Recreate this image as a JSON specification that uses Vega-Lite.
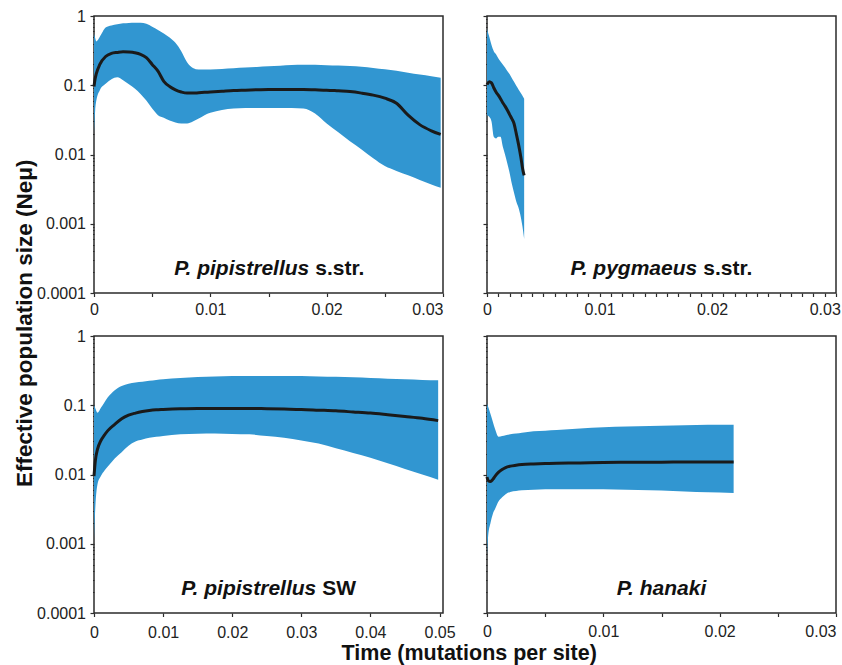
{
  "$schema": "https://vega.github.io/schema/vega-lite/v6.json",
  "padding": {"left": 12, "top": 7, "right": 5, "bottom": 2},
  "background": "white",
  "columns": 2,
  "spacing": {"row": 43, "column": 44},
  "bounds": "flush",
  "datasets": {
    "A": [
      {"t": 0, "lo": 0.0199, "med": 0.096, "hi": 0.556},
      {"t": 0.0001, "lo": 0.043, "med": 0.125, "hi": 0.48},
      {"t": 0.0002, "lo": 0.06, "med": 0.147, "hi": 0.43},
      {"t": 0.0005, "lo": 0.085, "med": 0.2, "hi": 0.5},
      {"t": 0.001, "lo": 0.105, "med": 0.26, "hi": 0.68},
      {"t": 0.0015, "lo": 0.122, "med": 0.288, "hi": 0.73},
      {"t": 0.002, "lo": 0.13, "med": 0.298, "hi": 0.76},
      {"t": 0.0025, "lo": 0.118, "med": 0.305, "hi": 0.785},
      {"t": 0.003, "lo": 0.103, "med": 0.302, "hi": 0.795},
      {"t": 0.0035, "lo": 0.09, "med": 0.295, "hi": 0.8},
      {"t": 0.004, "lo": 0.075, "med": 0.28, "hi": 0.8},
      {"t": 0.0045, "lo": 0.06, "med": 0.25, "hi": 0.77},
      {"t": 0.005, "lo": 0.046, "med": 0.2, "hi": 0.7},
      {"t": 0.0055, "lo": 0.037, "med": 0.16, "hi": 0.63},
      {"t": 0.006, "lo": 0.034, "med": 0.114, "hi": 0.56},
      {"t": 0.0065, "lo": 0.031, "med": 0.096, "hi": 0.49},
      {"t": 0.007, "lo": 0.029, "med": 0.086, "hi": 0.41},
      {"t": 0.0075, "lo": 0.028, "med": 0.08, "hi": 0.31},
      {"t": 0.008, "lo": 0.028, "med": 0.077, "hi": 0.215},
      {"t": 0.0085, "lo": 0.03, "med": 0.077, "hi": 0.178},
      {"t": 0.009, "lo": 0.033, "med": 0.078, "hi": 0.169},
      {"t": 0.0095, "lo": 0.037, "med": 0.079, "hi": 0.169},
      {"t": 0.01, "lo": 0.04, "med": 0.08, "hi": 0.169},
      {"t": 0.011, "lo": 0.044, "med": 0.082, "hi": 0.172},
      {"t": 0.012, "lo": 0.046, "med": 0.084, "hi": 0.176},
      {"t": 0.013, "lo": 0.047, "med": 0.085, "hi": 0.18},
      {"t": 0.014, "lo": 0.047, "med": 0.086, "hi": 0.184},
      {"t": 0.015, "lo": 0.047, "med": 0.087, "hi": 0.188},
      {"t": 0.016, "lo": 0.047, "med": 0.087, "hi": 0.192},
      {"t": 0.017, "lo": 0.047, "med": 0.087, "hi": 0.196},
      {"t": 0.018, "lo": 0.046, "med": 0.087, "hi": 0.198},
      {"t": 0.019, "lo": 0.039, "med": 0.086, "hi": 0.197},
      {"t": 0.02, "lo": 0.028, "med": 0.085, "hi": 0.195},
      {"t": 0.021, "lo": 0.021, "med": 0.083, "hi": 0.193},
      {"t": 0.022, "lo": 0.0155, "med": 0.081, "hi": 0.189},
      {"t": 0.023, "lo": 0.0118, "med": 0.077, "hi": 0.185},
      {"t": 0.024, "lo": 0.0088, "med": 0.072, "hi": 0.178},
      {"t": 0.025, "lo": 0.0068, "med": 0.065, "hi": 0.17},
      {"t": 0.026, "lo": 0.0058, "med": 0.055, "hi": 0.162},
      {"t": 0.027, "lo": 0.005, "med": 0.037, "hi": 0.152},
      {"t": 0.028, "lo": 0.0043, "med": 0.027, "hi": 0.143},
      {"t": 0.029, "lo": 0.0037, "med": 0.022, "hi": 0.135},
      {"t": 0.0298, "lo": 0.0033, "med": 0.0195, "hi": 0.128}
    ],
    "B": [
      {"t": 0, "lo": 0.037, "med": 0.102, "hi": 0.65},
      {"t": 0.0002, "lo": 0.035, "med": 0.112, "hi": 0.5},
      {"t": 0.0004, "lo": 0.03, "med": 0.108, "hi": 0.38},
      {"t": 0.0006, "lo": 0.018, "med": 0.092, "hi": 0.31},
      {"t": 0.0008, "lo": 0.017, "med": 0.08, "hi": 0.28},
      {"t": 0.001, "lo": 0.018, "med": 0.072, "hi": 0.245},
      {"t": 0.0012, "lo": 0.018, "med": 0.064, "hi": 0.22},
      {"t": 0.0014, "lo": 0.013, "med": 0.056, "hi": 0.2},
      {"t": 0.0016, "lo": 0.01, "med": 0.05, "hi": 0.18},
      {"t": 0.0018, "lo": 0.0075, "med": 0.044, "hi": 0.16},
      {"t": 0.002, "lo": 0.0055, "med": 0.038, "hi": 0.145},
      {"t": 0.0022, "lo": 0.0038, "med": 0.033, "hi": 0.127},
      {"t": 0.0024, "lo": 0.0028, "med": 0.028, "hi": 0.112},
      {"t": 0.0026, "lo": 0.0021, "med": 0.02, "hi": 0.098},
      {"t": 0.0028, "lo": 0.0017, "med": 0.014, "hi": 0.087},
      {"t": 0.003, "lo": 0.00125, "med": 0.0093, "hi": 0.077},
      {"t": 0.0032, "lo": 0.0008, "med": 0.0058, "hi": 0.068},
      {"t": 0.0033, "lo": 0.0006, "med": 0.005, "hi": 0.064}
    ],
    "C": [
      {"t": 0, "lo": 0.0012, "med": 0.0095, "hi": 0.1},
      {"t": 0.0002, "lo": 0.0035, "med": 0.016, "hi": 0.09},
      {"t": 0.0005, "lo": 0.0072, "med": 0.023, "hi": 0.078},
      {"t": 0.001, "lo": 0.0095, "med": 0.031, "hi": 0.092},
      {"t": 0.0015, "lo": 0.0113, "med": 0.037, "hi": 0.11},
      {"t": 0.002, "lo": 0.013, "med": 0.043, "hi": 0.13},
      {"t": 0.003, "lo": 0.017, "med": 0.053, "hi": 0.165},
      {"t": 0.004, "lo": 0.021, "med": 0.064, "hi": 0.19},
      {"t": 0.005, "lo": 0.026, "med": 0.072, "hi": 0.205},
      {"t": 0.006, "lo": 0.03, "med": 0.077, "hi": 0.213},
      {"t": 0.007, "lo": 0.032, "med": 0.081, "hi": 0.218},
      {"t": 0.008, "lo": 0.034, "med": 0.084, "hi": 0.225},
      {"t": 0.009, "lo": 0.035, "med": 0.086, "hi": 0.232},
      {"t": 0.01, "lo": 0.036, "med": 0.087, "hi": 0.238},
      {"t": 0.0125, "lo": 0.038, "med": 0.089, "hi": 0.248},
      {"t": 0.015, "lo": 0.0387, "med": 0.09, "hi": 0.255},
      {"t": 0.0175, "lo": 0.039, "med": 0.09, "hi": 0.26},
      {"t": 0.02, "lo": 0.0385, "med": 0.09, "hi": 0.264},
      {"t": 0.0225, "lo": 0.038, "med": 0.09, "hi": 0.265},
      {"t": 0.025, "lo": 0.036, "med": 0.089, "hi": 0.265},
      {"t": 0.0275, "lo": 0.034, "med": 0.088, "hi": 0.265},
      {"t": 0.03, "lo": 0.031, "med": 0.087, "hi": 0.264},
      {"t": 0.0325, "lo": 0.028, "med": 0.085, "hi": 0.26},
      {"t": 0.035, "lo": 0.024, "med": 0.083, "hi": 0.257},
      {"t": 0.0375, "lo": 0.0205, "med": 0.08, "hi": 0.253},
      {"t": 0.04, "lo": 0.0175, "med": 0.077, "hi": 0.248},
      {"t": 0.0425, "lo": 0.0145, "med": 0.073, "hi": 0.242},
      {"t": 0.045, "lo": 0.012, "med": 0.069, "hi": 0.237},
      {"t": 0.0475, "lo": 0.01, "med": 0.065, "hi": 0.232},
      {"t": 0.0498, "lo": 0.0084, "med": 0.06, "hi": 0.229}
    ],
    "D": [
      {"t": 0, "lo": 0.0007, "med": 0.0092, "hi": 0.105},
      {"t": 0.0001, "lo": 0.0013, "med": 0.0082, "hi": 0.095},
      {"t": 0.0003, "lo": 0.002, "med": 0.0079, "hi": 0.075},
      {"t": 0.0005, "lo": 0.0027, "med": 0.0085, "hi": 0.058},
      {"t": 0.0007, "lo": 0.0032, "med": 0.0095, "hi": 0.045},
      {"t": 0.001, "lo": 0.0041, "med": 0.0108, "hi": 0.035},
      {"t": 0.0013, "lo": 0.0047, "med": 0.0118, "hi": 0.036},
      {"t": 0.0016, "lo": 0.0052, "med": 0.0126, "hi": 0.037},
      {"t": 0.002, "lo": 0.0056, "med": 0.0132, "hi": 0.038},
      {"t": 0.0025, "lo": 0.0058, "med": 0.0136, "hi": 0.039},
      {"t": 0.003, "lo": 0.0059, "med": 0.0139, "hi": 0.04},
      {"t": 0.004, "lo": 0.006, "med": 0.0142, "hi": 0.042},
      {"t": 0.005, "lo": 0.0061, "med": 0.0144, "hi": 0.043},
      {"t": 0.006, "lo": 0.0061, "med": 0.0145, "hi": 0.044},
      {"t": 0.008, "lo": 0.0061, "med": 0.0147, "hi": 0.046},
      {"t": 0.01, "lo": 0.0061, "med": 0.0149, "hi": 0.048},
      {"t": 0.012, "lo": 0.006, "med": 0.015, "hi": 0.0492},
      {"t": 0.014, "lo": 0.0059, "med": 0.015, "hi": 0.05},
      {"t": 0.016, "lo": 0.0058, "med": 0.0151, "hi": 0.051},
      {"t": 0.018, "lo": 0.0056, "med": 0.0151, "hi": 0.052},
      {"t": 0.02, "lo": 0.0055, "med": 0.0151, "hi": 0.0523},
      {"t": 0.0212, "lo": 0.0054, "med": 0.0151, "hi": 0.0525}
    ]
  },
  "concat": [
    {
      "width": 349, "height": 277,
      "data": {"name": "A"},
      "layer": [
        {
          "mark": {"type": "area", "color": "#3196d1", "interpolate": "monotone"},
          "encoding": {
            "x": {"field": "t", "type": "quantitative", "scale": {"domain": [0, 0.03], "nice": false, "zero": false},
              "axis": {"title": null, "format": "~g", "values": [0, 0.0025, 0.005, 0.0075, 0.01, 0.0125, 0.015, 0.0175, 0.02, 0.0225, 0.025, 0.0275, 0.03],
                "labelExpr": "abs(datum.value*100 - round(datum.value*100)) < 0.01 ? datum.label : ''",
                "labelAlign": {"condition": {"test": "datum.value > 0.029", "value": "right"}, "value": "center"},
                "labelOverlap": false, "labelFlush": false, "tickSize": 3.5, "labelPadding": 5}},
            "y": {"field": "lo", "type": "quantitative", "scale": {"type": "log", "domain": [0.0001, 1], "nice": false},
              "axis": {"title": "Effective population size (Neμ)", "titleX": -62.6, "titleY": 306.8, "titleBaseline": "alphabetic", "titleAlign": "center", "titleAngle": -90, "titleFontSize": 22.5,
                "format": "~g", "labelOverlap": false,
                "values": [0.0001, 0.0002, 0.0003, 0.0004, 0.0005, 0.0006, 0.0007, 0.0008, 0.0009, 0.001, 0.002, 0.003, 0.004, 0.005, 0.006, 0.007, 0.008, 0.009, 0.01, 0.02, 0.03, 0.04, 0.05, 0.06, 0.07, 0.08, 0.09, 0.1, 0.2, 0.3, 0.4, 0.5, 0.6, 0.7, 0.8, 0.9, 1],
                "labelExpr": "abs(log(datum.value)/LN10 - round(log(datum.value)/LN10)) < 0.001 ? datum.label : ''",
                "tickSize": {"condition": {"test": "abs(log(datum.value)/LN10 - round(log(datum.value)/LN10)) < 0.001", "value": 4}, "value": 1.5},
                "labelPadding": 4.5}},
            "y2": {"field": "hi"}
          }
        },
        {
          "mark": {"type": "line", "color": "#1a1a1a", "strokeWidth": 3, "interpolate": "monotone"},
          "encoding": {
            "x": {"field": "t", "type": "quantitative"},
            "y": {"field": "med", "type": "quantitative"}
          }
        },
        {
          "data": {"values": [{"s": "P. pipistrellus"}]},
          "mark": {"type": "text", "align": "right", "baseline": "alphabetic", "fontStyle": "italic", "fontWeight": "bold", "fontSize": 21, "dx": -3, "color": "#111"},
          "encoding": {"x": {"datum": 0.01876, "type": "quantitative"}, "y": {"datum": 0.00018, "type": "quantitative"}, "text": {"field": "s"}}
        },
        {
          "data": {"values": [{"s": "s.str."}]},
          "mark": {"type": "text", "align": "left", "baseline": "alphabetic", "fontWeight": "bold", "fontSize": 21, "dx": 3, "color": "#111"},
          "encoding": {"x": {"datum": 0.01876, "type": "quantitative"}, "y": {"datum": 0.00018, "type": "quantitative"}, "text": {"field": "s"}}
        }
      ]
    },
    {
      "width": 349, "height": 277,
      "data": {"name": "B"},
      "resolve": {"axis": {"x": "independent"}},
      "layer": [
        {
          "mark": {"type": "area", "color": "#3196d1", "interpolate": "monotone"},
          "encoding": {
            "x": {"field": "t", "type": "quantitative", "scale": {"domain": [0, 0.031], "nice": false, "zero": false},
              "axis": {"orient": "bottom", "title": null, "format": "~g", "values": [0, 0.01, 0.02, 0.03],
                "labelOverlap": false, "labelFlush": false, "tickSize": 3.5, "labelPadding": 5}},
            "y": {"field": "lo", "type": "quantitative", "scale": {"type": "log", "domain": [0.0001, 1], "nice": false},
              "axis": {"title": null, "labels": false,
                "values": [0.0001, 0.0002, 0.0003, 0.0004, 0.0005, 0.0006, 0.0007, 0.0008, 0.0009, 0.001, 0.002, 0.003, 0.004, 0.005, 0.006, 0.007, 0.008, 0.009, 0.01, 0.02, 0.03, 0.04, 0.05, 0.06, 0.07, 0.08, 0.09, 0.1, 0.2, 0.3, 0.4, 0.5, 0.6, 0.7, 0.8, 0.9, 1],
                "tickSize": {"condition": {"test": "abs(log(datum.value)/LN10 - round(log(datum.value)/LN10)) < 0.001", "value": 4}, "value": 1.5}}},
            "y2": {"field": "hi"}
          }
        },
        {
          "mark": {"type": "line", "color": "#1a1a1a", "strokeWidth": 3, "interpolate": "monotone"},
          "encoding": {
            "x": {"field": "t", "type": "quantitative",
              "axis": {"orient": "bottom", "title": null, "labels": false, "tickSize": 3.5,
                "values": [0.001, 0.002, 0.003, 0.004, 0.005, 0.006, 0.007, 0.008, 0.009, 0.011, 0.012, 0.013, 0.014, 0.015, 0.016, 0.017, 0.018, 0.019, 0.021, 0.022, 0.023, 0.024, 0.025, 0.026, 0.027, 0.028, 0.029, 0.031]}},
            "y": {"field": "med", "type": "quantitative"}
          }
        },
        {
          "data": {"values": [{"s": "P. pygmaeus"}]},
          "mark": {"type": "text", "align": "right", "baseline": "alphabetic", "fontStyle": "italic", "fontWeight": "bold", "fontSize": 21, "dx": -3, "color": "#111"},
          "encoding": {"x": {"datum": 0.01894, "type": "quantitative", "axis": null}, "y": {"datum": 0.00018, "type": "quantitative"}, "text": {"field": "s"}}
        },
        {
          "data": {"values": [{"s": "s.str."}]},
          "mark": {"type": "text", "align": "left", "baseline": "alphabetic", "fontWeight": "bold", "fontSize": 21, "dx": 3, "color": "#111"},
          "encoding": {"x": {"datum": 0.01894, "type": "quantitative", "axis": null}, "y": {"datum": 0.00018, "type": "quantitative"}, "text": {"field": "s"}}
        }
      ]
    },
    {
      "width": 349, "height": 277,
      "data": {"name": "C"},
      "layer": [
        {
          "mark": {"type": "area", "color": "#3196d1", "interpolate": "monotone"},
          "encoding": {
            "x": {"field": "t", "type": "quantitative", "scale": {"domain": [0, 0.0505], "nice": false, "zero": false},
              "axis": {"title": "Time (mutations per site)", "titleX": 374.7, "titleY": 46.5, "titleBaseline": "alphabetic", "titleAlign": "center", "titleFontSize": 21.5,
                "format": "~g", "values": [0, 0.005, 0.01, 0.015, 0.02, 0.025, 0.03, 0.035, 0.04, 0.045, 0.05],
                "labelExpr": "abs(datum.value*100 - round(datum.value*100)) < 0.01 ? datum.label : ''",
                "labelOverlap": false, "labelFlush": false, "tickSize": 3.5, "labelPadding": 8}},
            "y": {"field": "lo", "type": "quantitative", "scale": {"type": "log", "domain": [0.0001, 1], "nice": false},
              "axis": {"title": null, "format": "~g", "labelOverlap": false,
                "values": [0.0001, 0.0002, 0.0003, 0.0004, 0.0005, 0.0006, 0.0007, 0.0008, 0.0009, 0.001, 0.002, 0.003, 0.004, 0.005, 0.006, 0.007, 0.008, 0.009, 0.01, 0.02, 0.03, 0.04, 0.05, 0.06, 0.07, 0.08, 0.09, 0.1, 0.2, 0.3, 0.4, 0.5, 0.6, 0.7, 0.8, 0.9, 1],
                "labelExpr": "abs(log(datum.value)/LN10 - round(log(datum.value)/LN10)) < 0.001 ? datum.label : ''",
                "tickSize": {"condition": {"test": "abs(log(datum.value)/LN10 - round(log(datum.value)/LN10)) < 0.001", "value": 4}, "value": 1.5},
                "labelPadding": 4.5}},
            "y2": {"field": "hi"}
          }
        },
        {
          "mark": {"type": "line", "color": "#1a1a1a", "strokeWidth": 3, "interpolate": "monotone"},
          "encoding": {
            "x": {"field": "t", "type": "quantitative"},
            "y": {"field": "med", "type": "quantitative"}
          }
        },
        {
          "data": {"values": [{"s": "P. pipistrellus"}]},
          "mark": {"type": "text", "align": "right", "baseline": "alphabetic", "fontStyle": "italic", "fontWeight": "bold", "fontSize": 21, "dx": -3, "color": "#111"},
          "encoding": {"x": {"datum": 0.0326, "type": "quantitative"}, "y": {"datum": 0.00018, "type": "quantitative"}, "text": {"field": "s"}}
        },
        {
          "data": {"values": [{"s": "SW"}]},
          "mark": {"type": "text", "align": "left", "baseline": "alphabetic", "fontWeight": "bold", "fontSize": 21, "dx": 3, "color": "#111"},
          "encoding": {"x": {"datum": 0.0326, "type": "quantitative"}, "y": {"datum": 0.00018, "type": "quantitative"}, "text": {"field": "s"}}
        }
      ]
    },
    {
      "width": 349, "height": 277,
      "data": {"name": "D"},
      "layer": [
        {
          "mark": {"type": "area", "color": "#3196d1", "interpolate": "monotone"},
          "encoding": {
            "x": {"field": "t", "type": "quantitative", "scale": {"domain": [0, 0.03], "nice": false, "zero": false},
              "axis": {"title": null, "format": "~g", "values": [0, 0.0025, 0.005, 0.0075, 0.01, 0.0125, 0.015, 0.0175, 0.02, 0.0225, 0.025, 0.0275, 0.03],
                "labelExpr": "abs(datum.value*100 - round(datum.value*100)) < 0.01 ? datum.label : ''",
                "labelAlign": {"condition": {"test": "datum.value > 0.029", "value": "right"}, "value": "center"},
                "labelOverlap": false, "labelFlush": false, "tickSize": 3.5, "labelPadding": 7}},
            "y": {"field": "lo", "type": "quantitative", "scale": {"type": "log", "domain": [0.0001, 1], "nice": false},
              "axis": {"title": null, "labels": false,
                "values": [0.0001, 0.0002, 0.0003, 0.0004, 0.0005, 0.0006, 0.0007, 0.0008, 0.0009, 0.001, 0.002, 0.003, 0.004, 0.005, 0.006, 0.007, 0.008, 0.009, 0.01, 0.02, 0.03, 0.04, 0.05, 0.06, 0.07, 0.08, 0.09, 0.1, 0.2, 0.3, 0.4, 0.5, 0.6, 0.7, 0.8, 0.9, 1],
                "tickSize": {"condition": {"test": "abs(log(datum.value)/LN10 - round(log(datum.value)/LN10)) < 0.001", "value": 4}, "value": 1.5}}},
            "y2": {"field": "hi"}
          }
        },
        {
          "mark": {"type": "line", "color": "#1a1a1a", "strokeWidth": 3, "interpolate": "monotone"},
          "encoding": {
            "x": {"field": "t", "type": "quantitative"},
            "y": {"field": "med", "type": "quantitative"}
          }
        },
        {
          "data": {"values": [{"s": "P. hanaki"}]},
          "mark": {"type": "text", "align": "center", "baseline": "alphabetic", "fontStyle": "italic", "fontWeight": "bold", "fontSize": 21, "color": "#111"},
          "encoding": {"x": {"datum": 0.015, "type": "quantitative"}, "y": {"datum": 0.00018, "type": "quantitative"}, "text": {"field": "s"}}
        }
      ]
    }
  ],
  "config": {
    "font": "Liberation Sans",
    "view": {"stroke": "#2b2b2b", "strokeWidth": 1.5},
    "axis": {
      "domain": false, "grid": false,
      "labelFont": "Liberation Sans", "labelFontSize": 16, "labelColor": "#222",
      "tickColor": "#2b2b2b", "tickWidth": 1.2,
      "titleFont": "Liberation Sans", "titleFontSize": 21, "titleFontWeight": "bold", "titleColor": "#111",
      "labelFlush": false, "labelOverlap": false, "labelBound": false
    },
    "text": {"font": "Liberation Sans"}
  }
}
